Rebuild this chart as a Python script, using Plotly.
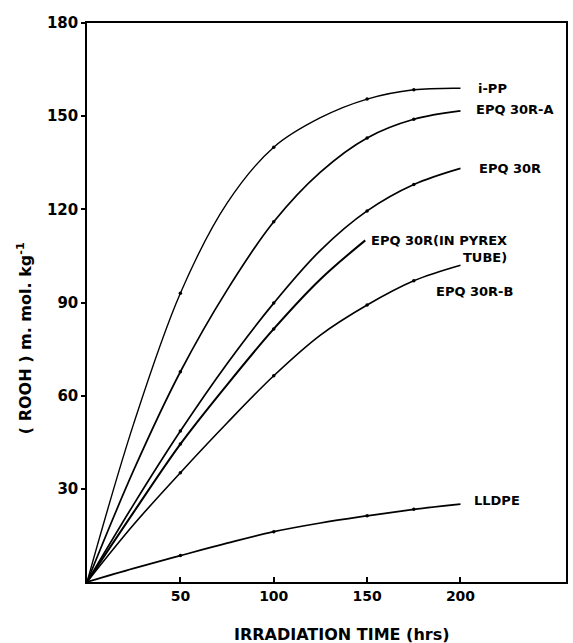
import plotly.graph_objects as go

# ---- data ----
ipp_x = [0, 25, 50, 75, 100, 125, 150, 175, 200]
ipp_y = [0, 51, 93, 122, 140, 149.5, 155.5, 158.5, 159]
ipp_mx = [50, 100, 150, 175]
ipp_my = [93, 140, 155.5, 158.5]

a_x = [0, 25, 50, 75, 100, 125, 150, 175, 200]
a_y = [0, 36, 67.7, 94, 116, 132, 143, 149, 151.7]
a_mx = [50, 100, 150, 175]
a_my = [67.7, 116, 143, 149]

r_x = [0, 25, 50, 75, 100, 125, 150, 175, 200]
r_y = [0, 25, 48.6, 70.3, 89.8, 106.8, 119.5, 128, 133.2]
r_mx = [50, 100, 150, 175]
r_my = [48.6, 89.8, 119.5, 128]

p_x = [0, 25, 50, 75, 100, 125, 149]
p_y = [0, 22.5, 44.4, 63.5, 81.5, 97.5, 110]
p_mx = [50, 100]
p_my = [44.4, 81.5]

b_x = [0, 25, 50, 75, 100, 125, 150, 175, 200]
b_y = [0, 18.5, 35.2, 51.2, 66.4, 79.5, 89.2, 97.0, 102]
b_mx = [50, 100, 150, 175]
b_my = [35.2, 66.4, 89.2, 97.0]

l_x = [0, 25, 50, 75, 100, 125, 150, 175, 200]
l_y = [0, 4.4, 8.5, 12.5, 16.2, 19, 21.3, 23.4, 25.1]
l_mx = [50, 100, 150, 175]
l_my = [8.5, 16.2, 21.3, 23.4]

x_ticks = [50, 100, 150, 200]
y_ticks = [30, 60, 90, 120, 150, 180]

labels = [
    ("i-PP", 208.5, 159, "left"),
    ("EPQ 30R-A", 207, 152, "left"),
    ("EPQ 30R", 209, 133, "left"),
    ("EPQ 30R(IN PYREX<br>TUBE)", 151, 107.2, "right"),
    ("EPQ 30R-B", 185.6, 93.4, "left"),
    ("LLDPE", 206, 26.4, "left"),
]

FONT = "DejaVu Sans"
fig = go.Figure()
series = [
    (ipp_x, ipp_y, ipp_mx, ipp_my, 1.4),
    (a_x, a_y, a_mx, a_my, 1.7),
    (r_x, r_y, r_mx, r_my, 1.7),
    (p_x, p_y, p_mx, p_my, 2.0),
    (b_x, b_y, b_mx, b_my, 1.6),
    (l_x, l_y, l_mx, l_my, 1.7),
]
for xs, ys, mx, my, w in series:
    fig.add_trace(go.Scatter(x=xs, y=ys, mode="lines",
                             line=dict(color="black", width=w, shape="spline", smoothing=1.0),
                             showlegend=False, hoverinfo="skip"))
    fig.add_trace(go.Scatter(x=mx, y=my, mode="markers",
                             marker=dict(color="black", size=3.5, symbol="circle"),
                             showlegend=False, hoverinfo="skip"))

for text, x, y, al in labels:
    fig.add_annotation(x=x, y=y, text=text, xref="x", yref="y", showarrow=False,
                       xanchor="left", yanchor="middle", align=al,
                       font=dict(family=FONT, size=13, color="black", weight=700))

# axis titles
fig.add_annotation(text="IRRADIATION TIME (hrs)", xref="paper", yref="paper",
                   x=0.532, y=-0.0948, showarrow=False, xanchor="center", yanchor="middle",
                   font=dict(family=FONT, size=16, color="black", weight=700))
fig.add_annotation(text="( ROOH ) m. mol. kg<sup>-1</sup>", xref="paper", yref="paper",
                   x=-0.129, y=0.4365, showarrow=False, textangle=-90,
                   xanchor="center", yanchor="middle",
                   font=dict(family=FONT, size=16, color="black", weight=700))

fig.update_layout(
    width=573, height=643,
    margin=dict(l=87, r=5, t=23, b=61),
    paper_bgcolor="white", plot_bgcolor="white",
    font=dict(family=FONT, color="black"),
)
fig.update_xaxes(range=[0, 256.5], showgrid=False, zeroline=False,
                 showline=True, linecolor="black", linewidth=1.5, mirror=True,
                 tickvals=x_ticks, ticktext=[str(v) for v in x_ticks],
                 ticks="inside", ticklen=5, tickcolor="black", tickwidth=1.5,
                 tickfont=dict(family=FONT, size=14, weight=700))
fig.update_yaxes(range=[0, 180], showgrid=False, zeroline=False,
                 showline=True, linecolor="black", linewidth=1.5, mirror=True,
                 tickvals=y_ticks, ticktext=[str(v) for v in y_ticks],
                 ticks="outside", ticklen=4, tickcolor="black", tickwidth=1.5,
                 tickfont=dict(family=FONT, size=15, weight=700))

fig.write_html("out.html")
